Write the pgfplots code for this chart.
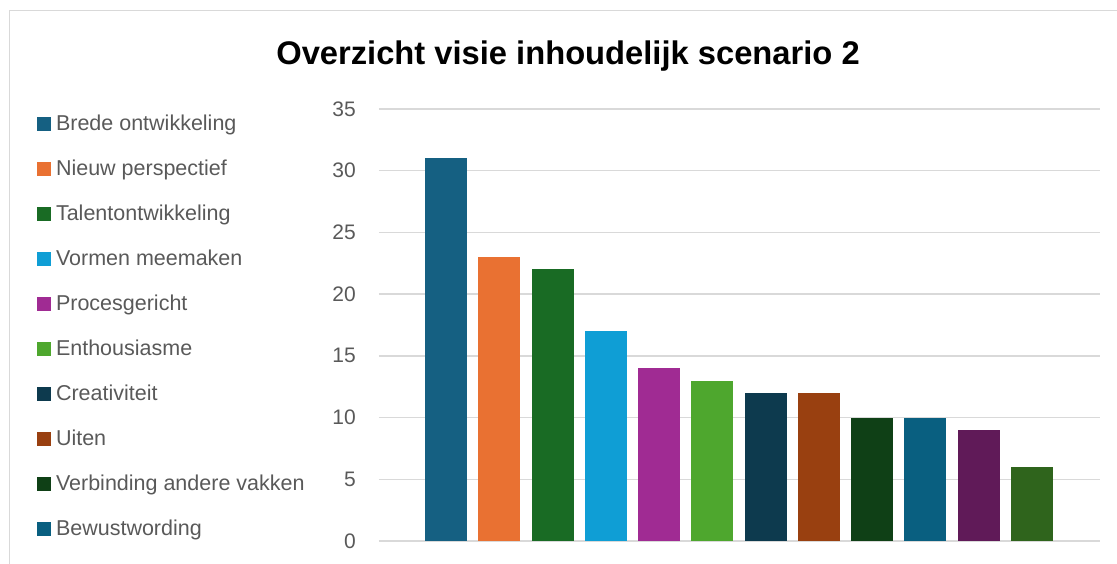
\documentclass[border=0pt]{standalone}
\usepackage{pgfplots}
\pgfplotsset{compat=1.18}
\usepackage{fontspec}
\setmainfont{Liberation Sans}
\definecolor{c1}{HTML}{156082}
\definecolor{c2}{HTML}{E97132}
\definecolor{c3}{HTML}{196B24}
\definecolor{c4}{HTML}{0F9ED5}
\definecolor{c5}{HTML}{A02B93}
\definecolor{c6}{HTML}{4EA72E}
\definecolor{c7}{HTML}{0D3A4E}
\definecolor{c8}{HTML}{994010}
\definecolor{c9}{HTML}{0F4016}
\definecolor{c10}{HTML}{095F80}
\definecolor{c11}{HTML}{601A58}
\definecolor{c12}{HTML}{2F641C}
\definecolor{txt}{HTML}{595959}
\definecolor{gridc}{HTML}{D9D9D9}
\begin{document}
\begin{tikzpicture}[x=1pt,y=1pt]
\useasboundingbox (0,0) rectangle (1117,564);
\draw[gridc, line width=1.5pt] (9.5,0) -- (9.5,553.5) -- (1117,553.5);
\node[anchor=base, inner sep=0pt, font=\bfseries\fontsize{32.7}{38}\selectfont] at (568,499) {Overzicht visie inhoudelijk scenario 2};
\begin{axis}[
  at={(379pt,23pt)}, anchor=south west, scale only axis,
  width=721pt, height=432pt,
  xmin=-1.258, xmax=12.277, ymin=0, ymax=35,
  ytick={0,5,...,35}, xtick=\empty,
  ymajorgrids, grid style={gridc, line width=1.5pt},
  axis line style={draw=none}, major tick length=0pt,
  /pgf/number format/assume math mode=true,
  yticklabel style={anchor=east, inner sep=0pt, xshift=-23pt, font=\fontsize{21}{24}\selectfont, text=txt},
  ybar, bar width=42pt,
  every axis plot/.append style={draw=none, bar shift=0pt},
  legend image code/.code={\fill[#1] (0pt,-1pt) rectangle (14pt,13pt);},
  legend style={draw=none, fill=none, inner sep=0pt, outer sep=0pt,
    at={(axis description cs:-0.47434,0.987)}, anchor=north west,
    row sep=25.1pt, column sep=5pt,
    font=\fontsize{21.5}{24}\selectfont, text=txt,
    nodes={inner sep=0pt, text height=15.4pt, text depth=4.5pt, anchor=base west}},
  legend cell align=left,
]
\addplot[fill=c1] coordinates {(0,31)};
\addplot[fill=c2] coordinates {(1,23)};
\addplot[fill=c3] coordinates {(2,22)};
\addplot[fill=c4] coordinates {(3,17)};
\addplot[fill=c5] coordinates {(4,14)};
\addplot[fill=c6] coordinates {(5,13)};
\addplot[fill=c7] coordinates {(6,12)};
\addplot[fill=c8] coordinates {(7,12)};
\addplot[fill=c9] coordinates {(8,10)};
\addplot[fill=c10] coordinates {(9,10)};
\addplot[fill=c11, forget plot] coordinates {(10,9)};
\addplot[fill=c12, forget plot] coordinates {(11,6)};
\legend{Brede ontwikkeling, Nieuw perspectief, Talentontwikkeling, Vormen meemaken, Procesgericht, Enthousiasme, Creativiteit, Uiten, Verbinding andere vakken, Bewustwording}
\end{axis}
\end{tikzpicture}
\end{document}
